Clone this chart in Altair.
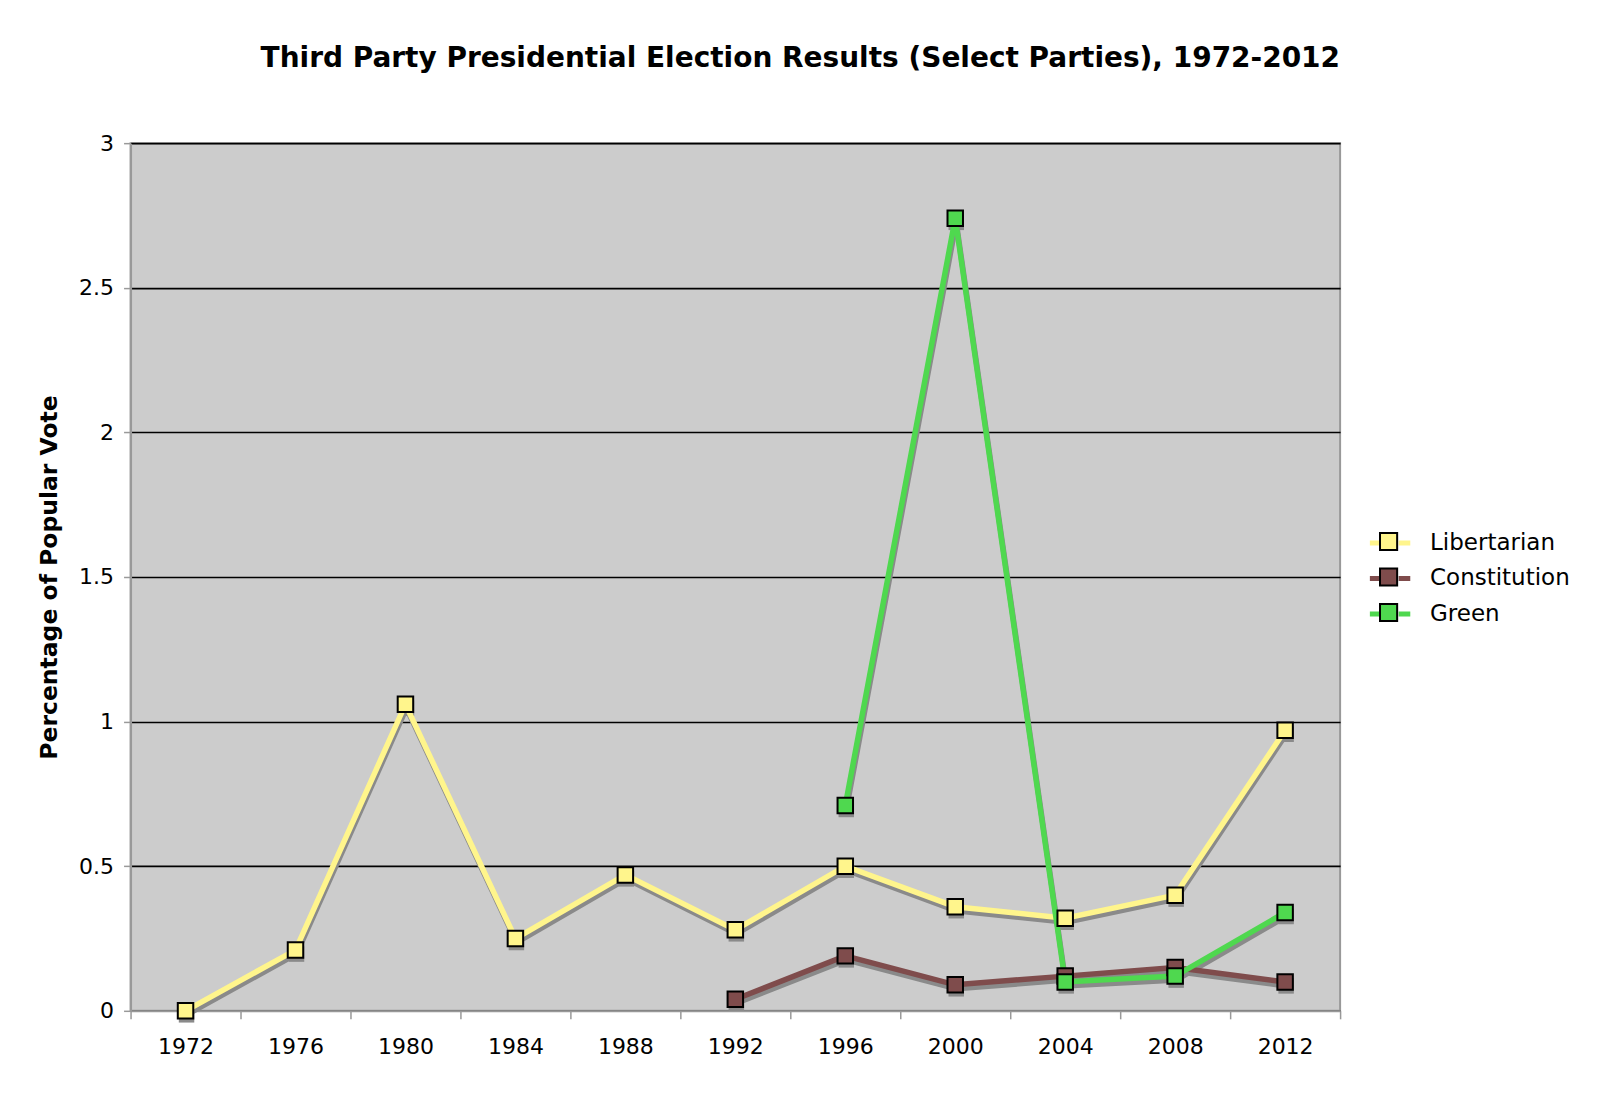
import altair as alt
import pandas as pd

years = ["1972", "1976", "1980", "1984", "1988", "1992", "1996", "2000", "2004", "2008", "2012"]
parties = ["Libertarian", "Constitution", "Green"]

libertarian_years = years
libertarian = [0.0, 0.21, 1.06, 0.25, 0.47, 0.28, 0.50, 0.36, 0.32, 0.40, 0.97]
constitution_years = ["1992", "1996", "2000", "2004", "2008", "2012"]
constitution = [0.04, 0.19, 0.09, 0.12, 0.15, 0.10]
green_years = ["1996", "2000", "2004", "2008", "2012"]
green = [0.71, 2.74, 0.10, 0.12, 0.34]

party_colors = ["#FFF58C", "#7F4C4C", "#4FD84F"]
y_ticks = [0, 0.5, 1, 1.5, 2, 2.5, 3]

rows = []
for party, ys, vs in [("Libertarian", libertarian_years, libertarian),
                      ("Constitution", constitution_years, constitution),
                      ("Green", green_years, green)]:
    for y, v in zip(ys, vs):
        rows.append({"party": party, "year": y, "pct": v, "order": parties.index(party)})
df = pd.DataFrame(rows)

FONT = "DejaVu Sans"

x_enc = alt.X(
    "year:O", sort=years,
    scale=alt.Scale(type="band", domain=years, paddingInner=0, paddingOuter=0),
    axis=alt.Axis(title=None, tickBand="extent", tickSize=8, tickColor="#999999",
                  tickWidth=1.5, domainColor="#999999", domainWidth=2,
                  labelFont=FONT, labelFontSize=22, labelColor="black",
                  labelPadding=18, labelAngle=0, grid=False),
)
y_enc = alt.Y(
    "pct:Q",
    scale=alt.Scale(domain=[0, 3], nice=False, zero=True),
    axis=alt.Axis(title="Percentage of Popular Vote", values=y_ticks, format="~g",
                  titleFont=FONT, titleFontSize=23.5, titleFontWeight="bold", titleColor="black",
                  titlePadding=17,
                  labelFont=FONT, labelFontSize=22, labelColor="black", labelPadding=10,
                  tickSize=7, tickColor="#999999", tickWidth=1.5,
                  domainColor="#999999", domainWidth=2,
                  grid=True, gridColor="black", gridWidth=1.6),
)

base = alt.Chart(df)

line_shadow = base.mark_line(color="#8A8A8A", strokeWidth=5.5, yOffset=4, xOffset=1).encode(
    x=x_enc, y=y_enc, detail="party:N", order="order:Q"
)
sq_shadow = base.mark_square(color="#8A8A8A", size=240, opacity=1, filled=True, yOffset=4, xOffset=1).encode(
    x=x_enc, y=y_enc, detail="party:N"
)

legend_x = 1245
legend_y = 385

lines = base.mark_line(strokeWidth=5.5).encode(
    x=x_enc, y=y_enc,
    stroke=alt.Stroke("party:N", sort=parties,
                      scale=alt.Scale(domain=parties, range=party_colors),
                      legend=alt.Legend(title=None, orient="none", legendX=legend_x, legendY=legend_y,
                                        symbolType="M-1.65,0H-0.7M0.7,0H1.65", symbolSize=600,
                                        symbolStrokeWidth=5, labelFont=FONT, labelFontSize=23,
                                        labelColor="black", labelOffset=25, rowPadding=8.5, padding=0)),
    detail="party:N",
)

squares = base.mark_square(size=240, filled=True, stroke="black", strokeWidth=2, opacity=1).encode(
    x=x_enc, y=y_enc,
    fill=alt.Fill("party:N", sort=parties,
                  scale=alt.Scale(domain=parties, range=party_colors),
                  legend=alt.Legend(title=None, orient="none", legendX=legend_x, legendY=legend_y,
                                    symbolType="M-0.7,-0.7H0.7V0.7H-0.7Z", symbolSize=600,
                                    symbolStrokeColor="black", symbolStrokeWidth=2,
                                    symbolOpacity=1,
                                    labelFont=FONT, labelFontSize=23, labelColor="transparent",
                                    labelOffset=25, rowPadding=8.5, padding=0)),
)

chart = alt.layer(line_shadow, sq_shadow, lines, squares).resolve_legend(
    fill="independent", stroke="independent"
).properties(
    width=1210,
    height=868,
    autosize=alt.AutoSizeParams(type="none"),
    padding={"left": 122.6, "top": 135, "right": 252, "bottom": 75},
    view=alt.ViewBackground(fill="#CCCCCC", stroke="#999999", strokeWidth=2),
    title=alt.Title("Third Party Presidential Election Results (Select Parties), 1972-2012",
                    font=FONT, fontSize=28, fontWeight="bold", color="black",
                    anchor="middle", frame="group", dx=65, offset=59),
).configure(background="white")

chart.save("out.html", embed_options={"renderer": "svg", "actions": False})
